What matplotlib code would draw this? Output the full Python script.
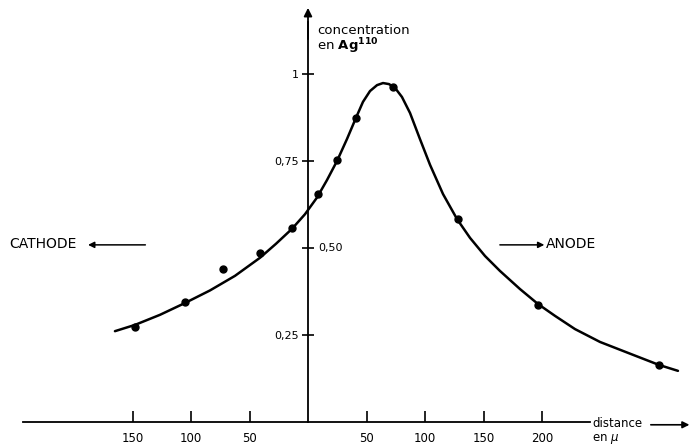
import matplotlib
matplotlib.use('Agg')
import matplotlib.pyplot as plt

# curve (distance in microns, cathode side negative)
curve_x = [-165.0, -147.9, -126.5, -105.1, -83.8, -62.4, -41.0, -27.4, -13.7, -2.6,
           7.7, 16.2, 24.8, 33.3, 41.0, 47.0, 53.0, 59.0, 64.1, 69.2, 74.4, 80.3,
           87.2, 95.7, 104.3, 115.4, 127.4, 138.5, 151.3, 164.1, 181.2, 196.6,
           211.1, 228.2, 249.6, 277.8, 300.0, 316.2]
curve_y = [0.261, 0.279, 0.308, 0.342, 0.378, 0.420, 0.472, 0.512, 0.555, 0.597,
           0.645, 0.695, 0.750, 0.813, 0.874, 0.920, 0.951, 0.968, 0.974, 0.971,
           0.960, 0.934, 0.888, 0.813, 0.739, 0.655, 0.583, 0.529, 0.477, 0.434,
           0.382, 0.339, 0.305, 0.267, 0.230, 0.193, 0.164, 0.147]

# measured points
pts_x = [-148, -105, -72.6, -41, -14, 8.5, 24.8, 41, 72.6, 128.2, 196.6, 300]
pts_y = [0.273, 0.345, 0.440, 0.486, 0.557, 0.655, 0.753, 0.874, 0.963, 0.583, 0.336, 0.164]

xticks = [-150, -100, -50, 50, 100, 150, 200]
xlabels = ['150', '100', '50', '50', '100', '150', '200']
yticks = [0.25, 0.5, 0.75, 1.0]
ylabels = ['0,25', '', '0,75', '1']

fig = plt.figure(figsize=(6.89, 4.48), dpi=100)
ax = fig.add_axes([0, 0, 1, 1])
sx = 1.17   # px per micron
sy = 348.0  # px per unit concentration
ax.set_xlim(-308 / sx, 381 / sx)
ax.set_ylim(-26 / sy, 422 / sy)

ax.plot(curve_x, curve_y, color='k', lw=1.8, solid_capstyle='round', solid_joinstyle='round')
ax.plot(pts_x, pts_y, 'o', color='k', ms=5)

for s in ['top', 'right']:
    ax.spines[s].set_visible(False)
ax.spines['left'].set_position(('data', 0))
ax.spines['bottom'].set_position(('data', 0))
ax.spines['left'].set_linewidth(1.3)
ax.spines['bottom'].set_linewidth(1.3)
ax.spines['bottom'].set_bounds(-244, 241)
ax.spines['left'].set_bounds(0, 1.15)
ax.annotate('', xy=(0, 1.19), xytext=(0, 1.10),
            arrowprops=dict(arrowstyle='-|>', lw=1.3, color='k',
                            mutation_scale=12, shrinkA=0, shrinkB=0))

ax.set_xticks(xticks)
ax.set_xticklabels(xlabels)
ax.set_yticks(yticks)
ax.set_yticklabels(ylabels)
ax.tick_params(axis='x', direction='in', length=8, width=1.2, pad=7, labelsize=8.5)
ax.tick_params(axis='y', direction='inout', length=9, width=1.2, pad=2, labelsize=8)
ax.text(9, 0.5, '0,50', fontsize=8, va='center', ha='left')

# axis titles
ax.text(8, 1.124, 'concentration', fontsize=9.5, va='center', ha='left')
ax.text(8, 1.08, r'en $\mathbf{Ag}^{\mathbf{110}}$', fontsize=9.5, va='center', ha='left')
ax.text(243, -0.005, 'distance', fontsize=8.5, va='center', ha='left')
ax.text(243, -0.05, r'en $\mu$', fontsize=8.5, va='center', ha='left')
ax.annotate('', xy=(326, -0.008), xytext=(293, -0.008),
            arrowprops=dict(arrowstyle='-|>', lw=1.2, color='k',
                            mutation_scale=10, shrinkA=0, shrinkB=0))

# electrode labels
ax.text(-255, 0.511, 'CATHODE', fontsize=10, va='center', ha='left')
ax.annotate('', xy=(-188, 0.509), xytext=(-139, 0.509),
            arrowprops=dict(arrowstyle='-|>', lw=1.1, color='k',
                            mutation_scale=9, shrinkA=0, shrinkB=0))
ax.text(203, 0.511, 'ANODE', fontsize=10, va='center', ha='left')
ax.annotate('', xy=(202, 0.509), xytext=(164, 0.509),
            arrowprops=dict(arrowstyle='-|>', lw=1.1, color='k',
                            mutation_scale=9, shrinkA=0, shrinkB=0))

fig.savefig('out.png', dpi=100)
